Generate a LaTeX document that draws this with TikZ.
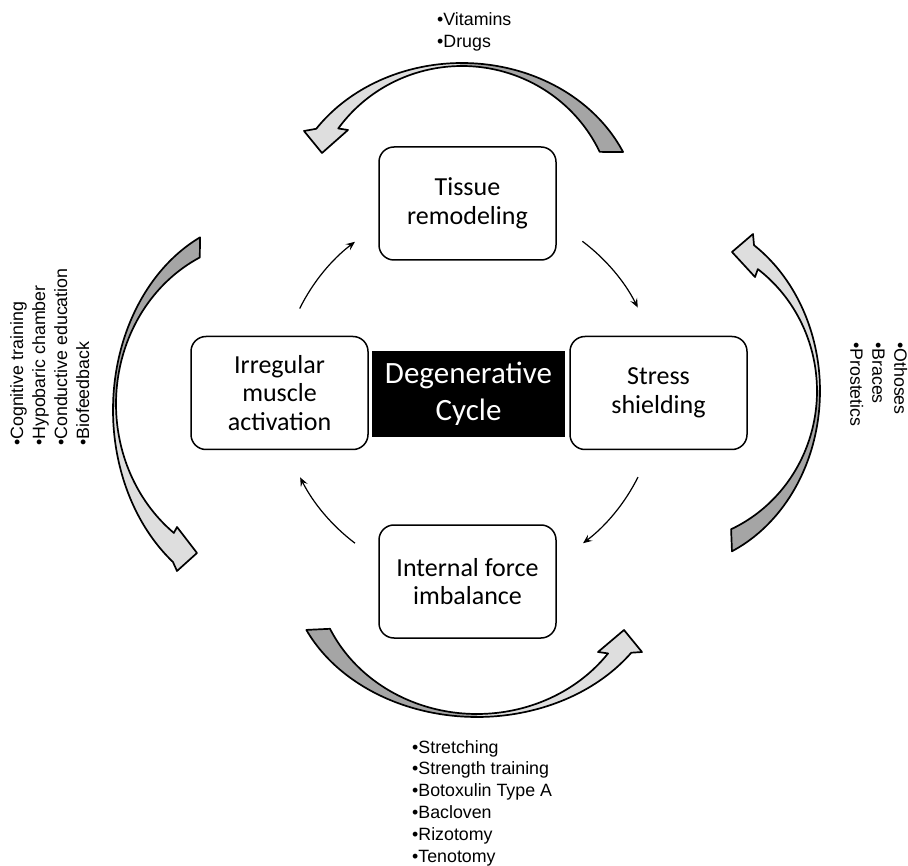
\documentclass[tikz,border=0pt]{standalone}
\usepackage{fontspec}
\setmainfont{Carlito}
\newfontfamily\listfont{Liberation Sans}
\usetikzlibrary{arrows.meta}
\definecolor{darkg}{RGB}{165,165,165}
\definecolor{lightg}{RGB}{222,222,222}

\newcommand{\arrTop}[1]{\path[#1] plot[domain=0:1,samples=90,variable=\t] ({462+177*cos(-24.5-121*\t)},{215+152*sin(-24.5-121*\t)}) -- (304,131) -- (322,153) -- (348,130) -- plot[domain=0:1,samples=90,variable=\t] ({462+152*cos(-144.5+119.5*\t)},{215+149*sin(-144.5+119.5*\t)}) -- cycle;}
\newcommand{\arrLeft}[1]{\path[#1] plot[domain=0:1,samples=90,variable=\t] ({265+152*cos(244.7-117.5*\t)},{410+191*sin(244.7-117.5*\t)}) -- (177,571) -- (197,553) -- (177,527) -- plot[domain=0:1,samples=90,variable=\t] ({265+149*cos(127.7+116.4*\t)},{404+163*sin(127.7+116.4*\t)}) -- cycle;}
\newcommand{\arrBottom}[1]{\path[#1] plot[domain=0:1,samples=90,variable=\t] ({477+188*cos(155.2-120.4*\t)},{567+150*sin(155.2-120.4*\t)}) -- (642,652) -- (624,630) -- (598,652) -- plot[domain=0:1,samples=90,variable=\t] ({477+162*cos(36+119.2*\t)},{567+147*sin(36+119.2*\t)}) -- cycle;}
\newcommand{\arrRight}[1]{\path[#1] plot[domain=0:1,samples=90,variable=\t] ({670+150*cos(65.6-121.6*\t)},{391+176*sin(65.6-121.6*\t)}) -- (753,234) -- (732,252) -- (755,277) -- plot[domain=0:1,samples=90,variable=\t] ({670+147*cos(-53.3+118.8*\t)},{391+152*sin(-53.3+118.8*\t)}) -- cycle;}

\begin{document}
\begin{tikzpicture}[x=1pt,y=-1pt,
  box/.style={draw, line width=1.5pt, rounded corners=15pt, minimum width=177pt, minimum height=113pt, align=center, font=\fontsize{26}{28.5}\selectfont, inner sep=2pt},
  core/.style={fill=black, text=white, minimum width=193pt, minimum height=86pt, align=center, font=\fontsize{31}{37}\selectfont, inner sep=0pt},
  cyc/.style={line width=1.2pt, -{Stealth[length=9pt,width=7.5pt,inset=3.5pt]}},
  blk/.style={draw=black, line width=1.7pt, line join=round},
  lst/.style={font=\listfont\fontsize{17.8}{22}\selectfont, align=left, inner sep=0pt}]
\useasboundingbox (0,0) rectangle (908,866);
\fill[white] (0,0) rectangle (908,866);

% block arrows
\arrTop{fill=lightg}
\begin{scope}\clip (460,0) rectangle (700,300); \arrTop{fill=darkg}\end{scope}
\arrTop{blk}

\arrLeft{fill=lightg}
\begin{scope}\clip (0,0) rectangle (300,407); \arrLeft{fill=darkg}\end{scope}
\arrLeft{blk}

\arrBottom{fill=lightg}
\begin{scope}\clip (250,550) rectangle (477,760); \arrBottom{fill=darkg}\end{scope}
\arrBottom{blk}

\arrRight{fill=lightg}
\begin{scope}\clip (650,391) rectangle (908,700); \arrRight{fill=darkg}\end{scope}
\arrRight{blk}

% boxes
\node[box] (tis) at (467.5,203.5) {Tissue\\remodeling};
\node[box] (irr) at (279.5,393) {Irregular\\muscle\\activation};
\node[core] (deg) at (468.5,394) {Degenerative\\Cycle};
\node[box] (str) at (658.5,393) {Stress\\shielding};
\node[box] (imb) at (467.5,581.5) {Internal force\\imbalance};

% cycle arrows
\coordinate (c1) at (299.7,308.5);
\coordinate (c2) at (582.4,241.3);
\coordinate (c3) at (638,477.1);
\coordinate (c4) at (355,543.2);
\draw[cyc] (c1) arc[start angle=153.6, end angle=127.1, radius=189pt];
\draw[cyc] (c2) arc[start angle=53.1, end angle=26.7, radius=189pt];
\draw[cyc] (c3) arc[start angle=-26.6, end angle=-52.9, radius=189pt];
\draw[cyc] (c4) arc[start angle=-127.1, end angle=-153.3, radius=189pt];

% lists
\node[lst, anchor=north west] (ltop) at (437,12.2) {•Vitamins\\•Drugs};
\node[lst, anchor=north west, font=\listfont\fontsize{17.8}{21.8}\selectfont] (lbot) at (412,740) {•Stretching\\•Strength training\\•Botoxulin Type A\\•Bacloven\\•Rizotomy\\•Tenotomy};
\node[lst, rotate=90, anchor=north west] (lleft) at (10,446) {•Cognitive training\\•Hypobaric chamber\\•Conductive education\\•Biofeedback};
\node[lst, rotate=-90, anchor=north west] (lright) at (907.5,342) {•Othoses\\•Braces\\•Prostetics};
\end{tikzpicture}
\end{document}
